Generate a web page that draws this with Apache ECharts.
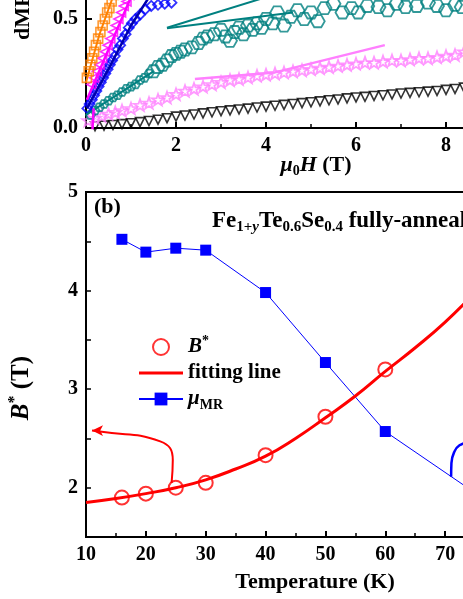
<!DOCTYPE html>
<html>
<head>
<meta charset="utf-8">
<script src="https://cdn.jsdelivr.net/npm/echarts@6/dist/echarts.min.js"></script>
<style>
  html, body { margin: 0; padding: 0; background: #fff; }
  #chart { width: 463px; height: 599px; }
</style>
</head>
<body>
<div id="chart"></div>
<script>
// ---- panel (a): dMR/dH vs field (T) ----
var orangeH = [0.02, 0.06, 0.1, 0.14, 0.18, 0.22, 0.27, 0.32, 0.37, 0.42, 0.47, 0.52, 0.57, 0.62]
var orangeY = [0.23, 0.26, 0.29, 0.32, 0.35, 0.38, 0.41, 0.44, 0.47, 0.5, 0.53, 0.55, 0.58, 0.61]
var orangeFitH = [0.0, 0.3, 0.7]
var orangeFitY = [0.21, 0.43, 0.66]

var magentaH = [0.12, 0.18, 0.24, 0.3, 0.36, 0.42, 0.48, 0.54, 0.6, 0.66, 0.72, 0.78, 0.84, 0.9, 0.96]
var magentaY = [0.2, 0.23, 0.26, 0.29, 0.32, 0.35, 0.38, 0.41, 0.44, 0.47, 0.5, 0.53, 0.56, 0.58, 0.61]
var magentaFitH = [0.02, 0.5, 1.0]
var magentaFitY = [0.13, 0.36, 0.6]
var magentaLowH = [0.14, 0.17]
var magentaLowY = [-0.02, 0.09]

var blueH = [0.03, 0.08, 0.13, 0.18, 0.23, 0.28, 0.33, 0.38, 0.43, 0.48, 0.53, 0.58, 0.64, 0.7, 0.76, 0.82, 0.88, 0.95, 1.02, 1.1, 1.2, 1.32, 1.45, 1.6, 1.75, 1.9]
var blueY = [0.09, 0.11, 0.13, 0.15, 0.17, 0.19, 0.21, 0.23, 0.25, 0.27, 0.29, 0.31, 0.33, 0.36, 0.38, 0.41, 0.43, 0.46, 0.48, 0.5, 0.52, 0.545, 0.56, 0.565, 0.57, 0.575]
var blueFitH = [0.02, 0.5, 1.0, 1.4]
var blueFitY = [0.09, 0.27, 0.47, 0.6]

var tealH = [0.1, 0.2, 0.3, 0.4, 0.5, 0.6, 0.7, 0.8, 0.9, 1.0, 1.1, 1.2, 1.3, 1.4, 1.5, 1.6, 1.7, 1.8, 1.9, 2.0, 2.1, 2.2, 2.35, 2.5, 2.6, 2.7, 2.85, 3.0, 3.1, 3.2, 3.3, 3.4, 3.5, 3.6, 3.7, 3.8, 3.9, 4.0, 4.15, 4.25, 4.4, 4.55, 4.7, 4.85, 5.0, 5.15, 5.3, 5.5, 5.7, 5.9, 6.05, 6.25, 6.5, 6.7, 6.9, 7.1, 7.35, 7.6, 7.8, 8.0, 8.2, 8.35]
var tealY = [0.06, 0.08, 0.095, 0.11, 0.125, 0.14, 0.15, 0.165, 0.18, 0.19, 0.2, 0.22, 0.23, 0.25, 0.26, 0.28, 0.29, 0.31, 0.33, 0.34, 0.35, 0.36, 0.37, 0.39, 0.41, 0.42, 0.43, 0.45, 0.42, 0.4, 0.44, 0.46, 0.43, 0.47, 0.45, 0.48, 0.46, 0.5, 0.48, 0.53, 0.47, 0.51, 0.54, 0.5, 0.53, 0.49, 0.55, 0.57, 0.53, 0.55, 0.53, 0.56, 0.555, 0.54, 0.57, 0.555, 0.56, 0.575, 0.56, 0.54, 0.565, 0.555]
var tealFitLowH = [0.0, 1.5]
var tealFitLowY = [0.06, 0.26]
var tealFitAH = [1.8, 4.0]
var tealFitAY = [0.46, 0.6]
var tealFitBH = [1.8, 4.6]
var tealFitBY = [0.458, 0.53]

var pinkH = [0.05, 0.2, 0.35, 0.5, 0.65, 0.8, 1.0, 1.2, 1.4, 1.6, 1.8, 2.0, 2.2, 2.4, 2.6, 2.8, 3.0, 3.2, 3.4, 3.6, 3.8, 4.0, 4.2, 4.4, 4.6, 4.8, 5.0, 5.2, 5.4, 5.6, 5.8, 6.0, 6.2, 6.4, 6.6, 6.8, 7.0, 7.2, 7.4, 7.6, 7.8, 8.0, 8.2, 8.4]
var pinkY = [0.035, 0.045, 0.055, 0.065, 0.072, 0.08, 0.09, 0.105, 0.115, 0.13, 0.14, 0.155, 0.17, 0.18, 0.19, 0.2, 0.21, 0.22, 0.225, 0.232, 0.24, 0.245, 0.25, 0.255, 0.26, 0.265, 0.27, 0.275, 0.28, 0.285, 0.29, 0.295, 0.3, 0.3, 0.305, 0.31, 0.31, 0.315, 0.32, 0.32, 0.325, 0.33, 0.335, 0.35]
var pinkFitH = [2.42, 4.2, 6.64]
var pinkFitY = [0.225, 0.255, 0.38]

var blackH = [0.2, 0.4, 0.6, 0.8, 1.0, 1.2, 1.4, 1.6, 1.8, 2.0, 2.2, 2.4, 2.6, 2.8, 3.0, 3.2, 3.4, 3.6, 3.8, 4.0, 4.2, 4.4, 4.6, 4.8, 5.0, 5.2, 5.4, 5.6, 5.8, 6.0, 6.2, 6.4, 6.6, 6.8, 7.0, 7.2, 7.4, 7.6, 7.8, 8.0, 8.2, 8.4]
var blackY = [0.008, 0.011, 0.014, 0.018, 0.022, 0.027, 0.032, 0.038, 0.045, 0.052, 0.057, 0.062, 0.067, 0.072, 0.077, 0.081, 0.085, 0.089, 0.094, 0.098, 0.102, 0.106, 0.11, 0.114, 0.118, 0.122, 0.127, 0.131, 0.136, 0.14, 0.143, 0.147, 0.15, 0.154, 0.158, 0.161, 0.164, 0.167, 0.17, 0.175, 0.179, 0.185]

// ---- panel (b): B* and mu_MR vs temperature ----
var tempB = [16, 20, 25, 30, 40, 50, 60]
var bStar = [1.9, 1.94, 2.0, 2.05, 2.33, 2.72, 3.2]
var fitT = [10, 15, 20, 25, 30, 35, 40, 45, 50, 55, 60, 65, 70, 75, 80]
var fitB = [1.85, 1.89, 1.94, 2.0, 2.08, 2.19, 2.32, 2.5, 2.71, 2.93, 3.18, 3.42, 3.68, 3.98, 4.3]
var tempMu = [16, 20, 25, 30, 40, 50, 60, 80]
var muMR = [4.52, 4.39, 4.43, 4.41, 3.98, 3.27, 2.57, 1.74]
// arrows pointing to the axes
var redArrowT = [24.3, 24.5, 22.4, 12.3, 11]
var redArrowB = [2.05, 2.28, 2.47, 2.57, 2.58]
var blueArrowT = [71.0, 71.05, 71.5, 72.4, 74]
var blueArrowB = [2.11, 2.25, 2.36, 2.43, 2.46]

function pts(xs, ys) {
  return xs.map(function (x, i) { return [x, ys[i]] })
}

var serif = 'Liberation Serif'
var hexagon = 'path://M-10,0 L-5,-8.66 L5,-8.66 L10,0 L5,8.66 L-5,8.66 Z'
var star = 'path://M0,-10 L2.35,-3.24 L9.51,-3.09 L3.8,1.24 L5.88,8.09 L0,4 L-5.88,8.09 L-3.8,1.24 L-9.51,-3.09 L-2.35,-3.24 Z'

function richSet(size, small) {
  var base = { fontFamily: serif, fontWeight: 'bold', color: '#000' }
  function s(extra) { return Object.assign({}, base, extra) }
  return {
    b: s({ fontSize: size, lineHeight: size + 5 }),
    bi: s({ fontSize: size, lineHeight: size + 5, fontStyle: 'italic' }),
    sub: s({ fontSize: small, lineHeight: 10, verticalAlign: 'bottom' }),
    subi: s({ fontSize: small, lineHeight: 10, verticalAlign: 'bottom', fontStyle: 'italic' }),
    sup: s({ fontSize: small, lineHeight: 10, verticalAlign: 'top' })
  }
}

function hollow(color, width) {
  return { color: 'transparent', borderColor: color, borderWidth: width || 1.5 }
}

function fit(xs, ys, color, width) {
  return {
    type: 'line', xAxisIndex: 0, yAxisIndex: 0, data: pts(xs, ys), symbol: 'none',
    lineStyle: { color: color, width: width || 2.5 }, silent: true
  }
}

function dots(xs, ys, symbol, size, color, rotate, bw) {
  return {
    type: 'scatter', xAxisIndex: 0, yAxisIndex: 0, data: pts(xs, ys),
    symbol: symbol, symbolSize: size, symbolRotate: rotate || 0, symbolKeepAspect: true,
    itemStyle: hollow(color, bw || 1.5)
  }
}

var tickLabel = { fontFamily: serif, fontWeight: 'bold', fontSize: 20, color: '#000', margin: 8 }
var axisLine = { lineStyle: { color: '#000', width: 2 } }

var chart = echarts.init(document.getElementById('chart'), null, { renderer: 'canvas' })

chart.setOption({
  animation: false,
  backgroundColor: '#fff',
  grid: [
    { left: 86, top: -90, width: 450, height: 218, outerBoundsMode: 'none', containLabel: false },
    { left: 86, top: 192, width: 419, height: 345, outerBoundsMode: 'none', containLabel: false, show: true, borderColor: '#000', borderWidth: 2, backgroundColor: 'transparent' }
  ],
  xAxis: [
    {
      gridIndex: 0, type: 'value', min: 0, max: 10, interval: 2,
      axisLine: axisLine, splitLine: { show: false },
      axisTick: { inside: true, length: 6, lineStyle: { width: 2 } },
      minorTick: { show: true, splitNumber: 2, length: 4, lineStyle: { color: '#000', width: 1.5 } },
      axisLabel: tickLabel
    },
    {
      gridIndex: 1, type: 'value', min: 10, max: 80, interval: 10,
      axisLine: axisLine, splitLine: { show: false },
      axisTick: { inside: true, length: 6, lineStyle: { width: 2 } },
      minorTick: { show: true, splitNumber: 2, length: 4, lineStyle: { color: '#000', width: 1.5 } },
      axisLabel: tickLabel
    }
  ],
  yAxis: [
    {
      gridIndex: 0, type: 'value', min: 0, max: 1, interval: 0.5,
      axisLine: axisLine, splitLine: { show: false },
      axisTick: { inside: true, length: 6, lineStyle: { width: 2 } },
      axisLabel: Object.assign({}, tickLabel, { formatter: function (v) { return v.toFixed(1) } })
    },
    {
      gridIndex: 1, type: 'value', min: 1.5, max: 5, interval: 0.5,
      axisLine: axisLine, splitLine: { show: false },
      axisTick: { inside: true, length: 5, lineStyle: { width: 1.5 } },
      axisLabel: Object.assign({}, tickLabel, { formatter: function (v) { return v % 1 === 0 ? String(v) : '' } })
    }
  ],
  legend: {
    left: 133, top: 329, orient: 'vertical', itemGap: 5,
    itemWidth: 44, itemHeight: 16,
    data: [
      'B*',
      { name: 'fitting line', icon: 'path://M0,0 L44,0 L44,3 L0,3 Z' },
      'μMR'
    ],
    formatter: function (name) {
      if (name === 'B*') return '{bi|B}{sup|*}'
      if (name === 'μMR') return '{bi|μ}{sub|MR}'
      return '{b|' + name + '}'
    },
    textStyle: { rich: richSet(21, 14) }
  },
  graphic: [
    {
      type: 'text', x: 23, y: 40, rotation: Math.PI / 2,
      style: { text: 'dMR/dH (%/T)', font: 'bold 22px "Liberation Serif"', fill: '#000', align: 'left', verticalAlign: 'middle', textAlign: 'left', textVerticalAlign: 'middle' }
    },
    {
      type: 'text', x: 316, y: 165,
      style: { text: '{bi|μ}{sub|0}{bi|H}{b| (T)}', rich: richSet(22, 14), align: 'center', verticalAlign: 'middle', textAlign: 'center', textVerticalAlign: 'middle' }
    },
    {
      type: 'text', x: 94, y: 207,
      style: { text: '(b)', font: 'bold 22px "Liberation Serif"', fill: '#000', align: 'left', verticalAlign: 'middle', textAlign: 'left', textVerticalAlign: 'middle' }
    },
    {
      type: 'text', x: 212, y: 221,
      style: { text: '{b|Fe}{sub|1+}{subi|y}{b|Te}{sub|0.6}{b|Se}{sub|0.4}{b| fully-annealed}', rich: richSet(23, 15), align: 'left', verticalAlign: 'middle', textAlign: 'left', textVerticalAlign: 'middle' }
    },
    {
      type: 'text', x: 315, y: 582,
      style: { text: 'Temperature (K)', font: 'bold 22px "Liberation Serif"', fill: '#000', align: 'center', verticalAlign: 'middle', textAlign: 'center', textVerticalAlign: 'middle' }
    },
    {
      type: 'text', x: 22, y: 388, rotation: Math.PI / 2,
      style: { text: '{bi|B}{sup|*}{b| (T)}', rich: richSet(25, 16), align: 'center', verticalAlign: 'middle', textAlign: 'center', textVerticalAlign: 'middle' }
    }
  ],
  series: [
    // panel (a)
    dots(blackH, blackY, 'triangle', 9, '#000', 180, 1.6),
    dots(pinkH, pinkY, star, 12, '#ff80ff', 0, 1.8),
    fit(pinkFitH, pinkFitY, '#ff80ff', 2.5),
    {
      type: 'scatter', xAxisIndex: 0, yAxisIndex: 0, data: pts(tealH, tealY),
      symbol: hexagon, symbolKeepAspect: true,
      symbolSize: function (v) { return v[0] < 1.5 ? 9 : 14 },
      itemStyle: hollow('#008080', 1.8)
    },
    fit(tealFitLowH, tealFitLowY, '#008080', 2),
    fit(tealFitAH, tealFitAY, '#008080', 2),
    fit(tealFitBH, tealFitBY, '#008080', 2),
    dots(blueH, blueY, 'diamond', 10, '#0000ff', 0, 1.8),
    fit(blueFitH, blueFitY, '#0000b0', 2.5),
    dots(magentaH, magentaY, 'triangle', 9, '#ff00ff', 90, 1.6),
    fit(magentaFitH, magentaFitY, '#ff00ff', 2.5),
    fit(magentaLowH, magentaLowY, '#ff00ff', 2.5),
    dots(orangeH, orangeY, 'rect', 9, '#ff8000', 0, 1.6),
    fit(orangeFitH, orangeFitY, '#ff8000', 2),
    // panel (b)
    {
      name: 'μMR', type: 'line', xAxisIndex: 1, yAxisIndex: 1, data: pts(tempMu, muMR),
      symbol: 'rect', symbolSize: 11, color: '#0000ff',
      lineStyle: { color: '#0000ff', width: 1 }, itemStyle: { color: '#0000ff' }
    },
    {
      name: 'fitting line', type: 'line', xAxisIndex: 1, yAxisIndex: 1, data: pts(fitT, fitB),
      smooth: true, symbol: 'none', color: '#ff0000',
      lineStyle: { color: '#ff0000', width: 3 }
    },
    {
      name: 'B*', type: 'scatter', xAxisIndex: 1, yAxisIndex: 1, data: pts(tempB, bStar),
      symbol: 'circle', symbolSize: 14, color: '#ff0000',
      itemStyle: { color: 'transparent', borderColor: '#ff0000', borderWidth: 2 }
    },
    {
      type: 'line', xAxisIndex: 1, yAxisIndex: 1, smooth: true, symbol: 'none',
      data: pts(redArrowT, redArrowB).map(function (p, i, a) {
        return i === a.length - 1 ? { value: p, symbol: 'arrow', symbolSize: [8, 11], symbolRotate: 90 } : p
      }),
      lineStyle: { color: '#ff0000', width: 2 }, itemStyle: { color: '#ff0000' }
    },
    {
      type: 'line', xAxisIndex: 1, yAxisIndex: 1, smooth: true, symbol: 'none',
      data: pts(blueArrowT, blueArrowB),
      lineStyle: { color: '#0000ff', width: 2.5 }
    }
  ]
})
</script>
</body>
</html>
